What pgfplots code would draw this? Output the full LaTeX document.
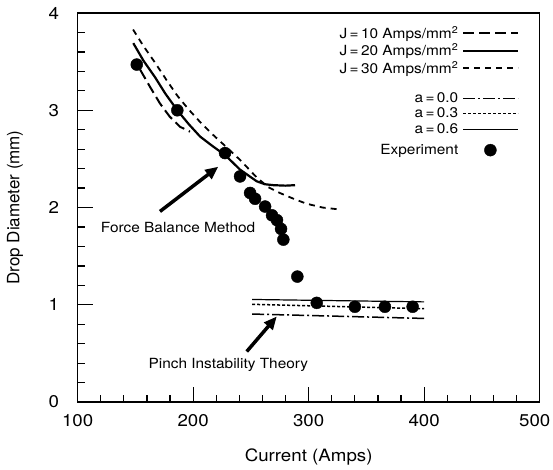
\documentclass[border=0pt]{standalone}
\usepackage{fontspec}
\setmainfont[FakeStretch=1.1]{TeX Gyre Heros}
\newfontfamily\ylfont{TeX Gyre Heros}
\usepackage{pgfplots}
\pgfplotsset{compat=1.18}
\usetikzlibrary{arrows.meta}
\newcommand\ls{\rule[-4.5bp]{0pt}{12.5bp}}
\pgfplotsset{markleg/.style={legend image code/.code={\fill (27bp,0bp) circle[radius=6bp];}}}
\begin{document}
\begin{tikzpicture}[font=\fontsize{14bp}{17bp}\selectfont]
\begin{axis}[
 scale only axis, width=462bp, height=389bp,
 xmin=100, xmax=500, ymin=0, ymax=4,
 xtick={100,200,...,500}, ytick={0,1,...,4},
 xticklabels={100,200,300,400,\hspace*{-10bp}500},
 minor x tick num=4, minor y tick num=4,
 tick pos=left, tick align=inside,
 major tick length=15bp, minor tick length=7bp,
 tick style={black, line width=1.2bp},
 axis line style={line width=1.5bp},
 /pgf/number format/assume math mode=true,
 ticklabel style={font=\fontsize{17bp}{20bp}\selectfont},
 xlabel={Current (Amps)}, ylabel={\ylfont Drop Diameter (mm)},
 xlabel style={at={(axis description cs:0.5,-0.14)}, anchor=center, font=\fontsize{17bp}{20bp}\selectfont},
 ylabel style={at={(axis description cs:-0.1355,0.5)}, anchor=center, font=\fontsize{17bp}{20bp}\selectfont},
 xticklabel style={yshift=-9bp},
 yticklabel style={xshift=-15bp},
 legend cell align=right, legend plot pos=right,
 legend style={draw=none, fill=none, at={(rel axis cs:1,1)}, anchor=north east,
   xshift=-20bp, yshift=-11bp, inner sep=0pt, row sep=0pt, column sep=2bp,
   font=\fontsize{14bp}{17bp}\selectfont},
 legend image code/.code={\draw[#1] (0bp,0bp) -- (55bp,0bp);},
]
% J = 10
\addplot[black, line width=2bp, dash pattern=on 11bp off 5bp] coordinates {
(154.0,3.42) (162.7,3.24) (171.3,3.07) (179.7,2.935) (188.7,2.83) (197.3,2.78)};
\addlegendentry{\ls J\,=\,10 Amps/mm\textsuperscript{2}}
% J = 20
\addplot[black, line width=2.2bp] coordinates {
(148.2,3.69) (157,3.51) (167,3.34) (176,3.17) (186.3,3.00) (196,2.86) (206,2.73)
(217,2.63) (227.6,2.54) (240.6,2.39) (255,2.27) (262,2.24) (269.4,2.23) (280,2.225) (288.2,2.23)};
\addlegendentry{\ls J\,=\,20 Amps/mm\textsuperscript{2}}
% J = 30
\addplot[black, line width=1.8bp, dash pattern=on 6bp off 5bp] coordinates {
(148,3.83) (157,3.66) (167,3.49) (177,3.31) (186.3,3.15) (196,3.01) (206,2.88)
(217,2.75) (228,2.63) (240.6,2.49) (255,2.31) (265,2.21) (275,2.15) (287,2.09)
(298,2.04) (312,2.00) (327,1.98)};
\addlegendentry{\ls J\,=\,30 Amps/mm\textsuperscript{2}}
\addlegendimage{empty legend}
\addlegendentry{\rule{0pt}{8bp}}
% a = 0.0
\addplot[black, line width=1.5bp, dash pattern=on 12bp off 3bp on 2bp off 3bp] coordinates {
(251,0.905) (400,0.86)};
\addlegendentry{\ls a\,=\,0.0}
% a = 0.3
\addplot[black, line width=1.5bp, dash pattern=on 3bp off 2bp] coordinates {
(251,1.005) (400,0.96)};
\addlegendentry{\ls a\,=\,0.3}
% a = 0.6
\addplot[black, line width=1.2bp] coordinates {
(251,1.055) (400,1.03)};
\addlegendentry{\ls a\,=\,0.6}
\addlegendimage{empty legend}
\addlegendentry{\rule{0pt}{0pt}}
% Experiment
\addplot[only marks, mark=*, mark size=6bp, black, markleg] coordinates {
(151.2,3.47) (186.3,3.00) (227.6,2.56) (240.6,2.32) (249.3,2.15) (253.6,2.09)
(262.3,2.01) (268.3,1.92) (272.6,1.87) (276.1,1.78) (278.1,1.67) (290.2,1.29)
(307,1.02) (340,0.98) (366,0.98) (390,0.98)};
\addlegendentry{\ls Experiment}
% annotations
\draw[line width=3.5bp, -{Triangle[length=13bp,width=11bp]}] (axis cs:171.3,1.96) -- (axis cs:221.8,2.42);
\node at (axis cs:187,1.79) {Force Balance Method};
\draw[line width=3.5bp, -{Triangle[length=13bp,width=11bp]}] (axis cs:246.4,0.52) -- (axis cs:272.4,0.88);
\node at (axis cs:230.5,0.38) {Pinch Instability Theory};
\end{axis}
\pgfresetboundingbox
\path[use as bounding box] ([xshift=-77.6bp,yshift=-67bp]current axis.south west) rectangle ([xshift=13.3bp,yshift=13bp]current axis.north east);
\end{tikzpicture}
\end{document}
